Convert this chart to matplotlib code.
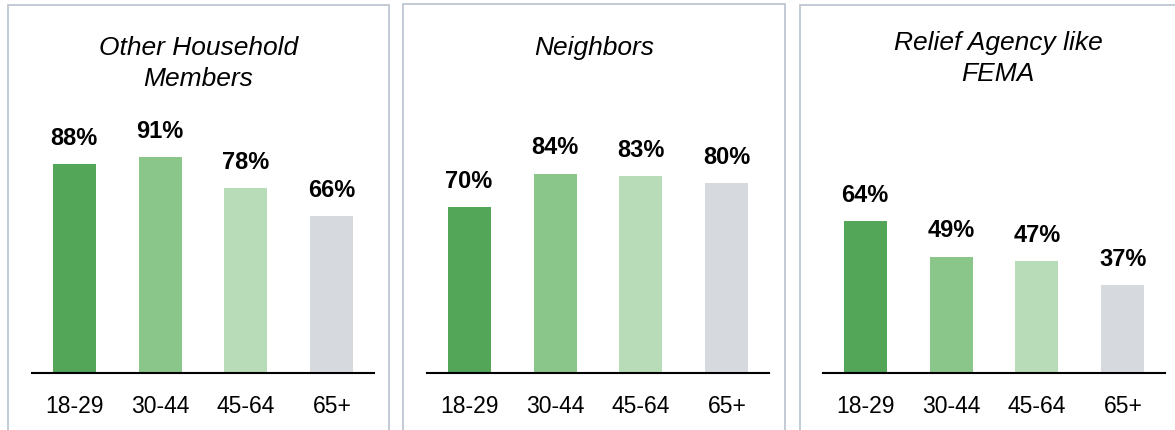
import matplotlib.pyplot as plt
from matplotlib.patches import Rectangle

plt.rcParams['font.family'] = ['Liberation Sans', 'DejaVu Sans']

age_groups = ['18-29', '30-44', '45-64', '65+']
titles = ['Other Household\nMembers', 'Neighbors', 'Relief Agency like\nFEMA']
household = [88, 91, 78, 66]
neighbors = [70, 84, 83, 80]
relief = [64, 49, 47, 37]
series = [household, neighbors, relief]
bar_colors = ['#53a557', '#8ac689', '#b8dcb7', '#d6dadf']

W, H = 1175, 431
fig = plt.figure(figsize=(W / 100, H / 100), dpi=100)

# panel frames (pixels, from top-left): left, right, top
frames = [(8, 389, 6), (403, 785, 5), (800, 1185, 6)]
axes_x = [32, 427, 823]
title_x = [198.5, 594, 998]
title_y = [55, 55, 50]
base_y = 374
ax_w, ax_h = 342, 237.5

for i, vals in enumerate(series):
    l, r, t = frames[i]
    fig.patches.append(Rectangle((l / W, -0.05), (r - l) / W, (H - t) / H + 0.05,
                                 transform=fig.transFigure, fill=False,
                                 edgecolor='#bdc7d1', linewidth=1.3))
    ax = fig.add_axes([axes_x[i] / W, (H - base_y) / H, ax_w / W, ax_h / H])
    x = range(len(age_groups))
    ax.bar(x, vals, width=0.5, color=bar_colors)
    ax.set_xlim(-0.49, 3.49)
    ax.set_ylim(0, 100)
    for s in ['top', 'right', 'left']:
        ax.spines[s].set_visible(False)
    ax.spines['bottom'].set_linewidth(1.5)
    ax.set_yticks([])
    ax.set_xticks(list(x))
    ax.set_xticklabels(age_groups, fontsize=16.5)
    ax.tick_params(axis='x', length=0, pad=15)
    ax.patch.set_alpha(0)
    for xi, v in zip(x, vals):
        ax.annotate(f'{v}%', (xi, v), xytext=(0, 14.5), textcoords='offset points',
                    ha='center', va='baseline', fontsize=17, fontweight='bold')
    # title lines drawn one by one to control spacing
    for j, line in enumerate(titles[i].split('\n')):
        fig.text(title_x[i] / W, 1 - (title_y[i] + 31 * j) / H, line, ha='center',
                 va='baseline', fontsize=19, fontstyle='italic')

fig.savefig('out.png', dpi=100)
